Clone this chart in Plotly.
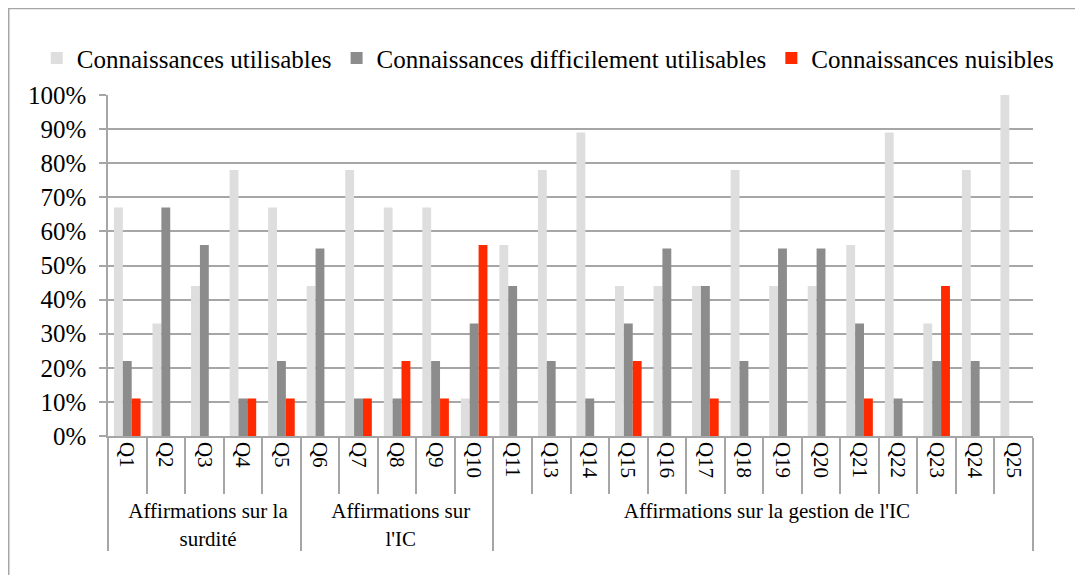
import plotly.graph_objects as go

groups = ["Affirmations sur la<br>surdité"] * 5 + ["Affirmations sur<br>l'IC"] * 5 + ["Affirmations sur la gestion de l'IC"] * 14
questions = ["Q1", "Q2", "Q3", "Q4", "Q5", "Q6", "Q7", "Q8", "Q9", "Q10",
             "Q11", "Q13", "Q14", "Q15", "Q16", "Q17", "Q18", "Q19", "Q20",
             "Q21", "Q22", "Q23", "Q24", "Q25"]

utilisables = [67, 33, 44, 78, 67, 44, 78, 67, 67, 11,
               56, 78, 89, 44, 44, 44, 78, 44, 44, 56, 89, 33, 78, 100]
difficiles = [22, 67, 56, 11, 22, 55, 11, 11, 22, 33,
              44, 22, 11, 33, 55, 44, 22, 55, 55, 33, 11, 22, 22, 0]
nuisibles = [11, 0, 0, 11, 11, 0, 11, 22, 11, 56,
             0, 0, 0, 22, 0, 11, 0, 0, 0, 11, 0, 44, 0, 0]

series_names = ["Connaissances utilisables",
                "Connaissances difficilement utilisables",
                "Connaissances nuisibles"]
colors = ["#dedede", "#8c8c8c", "#ff2a00"]

FONT = "'Liberation Serif', 'Times New Roman', Times, serif"
GRID = "#a6a6a6"

fig = go.Figure()
for name, vals, col in zip(series_names, [utilisables, difficiles, nuisibles], colors):
    fig.add_trace(go.Bar(
        x=[groups, questions], y=vals, name=name,
        marker=dict(color=col, line=dict(width=0)),
    ))

fig.update_layout(
    width=1083, height=575,
    margin=dict(l=100, r=58, t=87, b=147, autoexpand=False),
    paper_bgcolor="white", plot_bgcolor="white",
    barmode="group", bargap=0.31, bargroupgap=0,
    font=dict(family=FONT, size=25, color="black"),
    legend=dict(orientation="h", x=-0.077, xanchor="left",
                y=1.108, yanchor="middle",
                font=dict(family=FONT, size=25), itemwidth=30, traceorder="normal",
                bgcolor="rgba(0,0,0,0)"),
    shapes=[dict(type="rect", xref="paper", yref="paper",
                 x0=-0.1073, x1=1.2, y0=-0.6, y1=1.2533,
                 line=dict(color=GRID, width=1.5), layer="below")],
)

fig.update_yaxes(
    range=[0, 100], dtick=10, ticksuffix="%",
    showgrid=True, gridcolor=GRID, gridwidth=1.5,
    showline=True, linecolor=GRID, linewidth=1.5,
    ticks="outside", ticklen=7, tickcolor=GRID, tickwidth=1.5,
    ticklabelstandoff=8,
    zeroline=False, tickfont=dict(family=FONT, size=25),
)
fig.update_xaxes(
    type="multicategory",
    showline=True, linecolor=GRID, linewidth=1.5,
    ticks="outside", tickson="boundaries", ticklen=56, tickcolor=GRID, tickwidth=1.5,
    tickangle=90, tickfont=dict(family=FONT, size=21),
    showdividers=True, dividercolor=GRID, dividerwidth=1.5,
)

fig.write_html("out.html")
